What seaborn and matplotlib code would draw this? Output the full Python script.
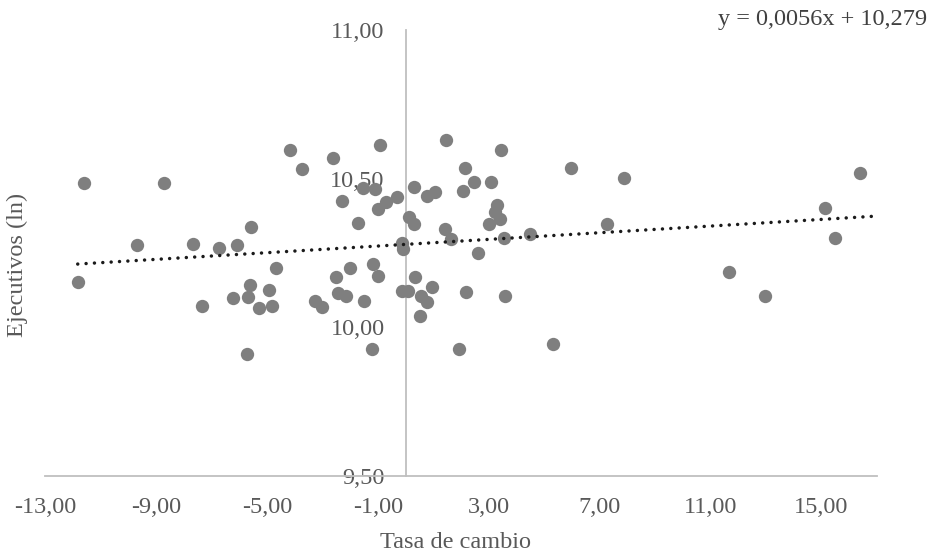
import matplotlib
matplotlib.use("Agg")
import matplotlib.pyplot as plt
from matplotlib.ticker import FuncFormatter, FixedLocator
import seaborn as sns
import pandas as pd
import numpy as np

# ---- data ----
tasa_cambio = [
    -11.59, -8.72, -5.59, -9.68, -7.68, -6.71, -6.09, -11.82, -5.61, -6.22,
    -5.69, -5.29, -7.35, -5.72, -4.15, -0.93, -3.75, -2.63, -1.55, -1.11,
    -2.30, -0.99, -0.71, -0.29, 0.31, 0.77, 1.05, 0.13, 0.30, -1.71,
    -0.11, -0.09, -4.68, -2.01, -1.17, -1.01, -2.49, -4.92, -4.83, -3.27,
    -3.03, -2.45, -2.15, -1.50, -0.14, 0.08, 0.33, 0.57, 0.79, 0.97,
    0.51, -1.21, 1.47, 3.46, 5.98, 2.13, 2.46, 3.07, 2.07, 3.30,
    3.21, 3.39, 3.01, 1.44, 1.65, 3.55, 4.50, 2.61, 2.19, 3.59,
    1.93, 5.30, 7.87, 16.40, 15.13, 7.26, 15.47, 11.68, 12.97,
]
ejecutivos = [
    10.486, 10.486, 10.337, 10.278, 10.281, 10.268, 10.277, 10.151, 10.142, 10.098,
    10.103, 10.065, 10.071, 9.910, 10.597, 10.613, 10.534, 10.568, 10.469, 10.466,
    10.426, 10.398, 10.420, 10.437, 10.471, 10.442, 10.454, 10.370, 10.346, 10.350,
    10.284, 10.263, 10.201, 10.201, 10.214, 10.173, 10.170, 10.124, 10.072, 10.087,
    10.070, 10.115, 10.106, 10.090, 10.121, 10.121, 10.169, 10.104, 10.084, 10.137,
    10.039, 9.927, 10.629, 10.597, 10.536, 10.536, 10.488, 10.488, 10.459, 10.410,
    10.387, 10.364, 10.347, 10.332, 10.297, 10.300, 10.315, 10.250, 10.120, 10.104,
    9.927, 9.943, 10.502, 10.519, 10.402, 10.348, 10.299, 10.185, 10.107,
]
trend_slope = 0.0056
trend_intercept = 10.279
trend_x_end = 17.0
equation_label = "y = 0,0056x + 10,279"
x_ticks = [-13, -9, -5, -1, 3, 7, 11, 15]
y_ticks = [9.5, 10.0, 10.5, 11.0]
x_title = "Tasa de cambio"
y_title = "Ejecutivos (ln)"

df = pd.DataFrame({"Tasa de cambio": tasa_cambio, "Ejecutivos (ln)": ejecutivos})

# ---- style ----
sns.set_style("white")
plt.rcParams["font.family"] = ["Liberation Serif", "DejaVu Serif"]
FS = 17.5
TXT = "#595959"
AXC = "#bfbfbf"

fig = plt.figure(figsize=(9.31, 5.56), dpi=100)
W, H = 931, 556
ax = fig.add_axes([45 / W, (H - 476) / H, 832 / W, 446 / H])

sns.scatterplot(data=df, x="Tasa de cambio", y="Ejecutivos (ln)", ax=ax,
                color="#7f7f7f", s=92, linewidth=0, zorder=3, legend=False)

xs = np.array([min(tasa_cambio), trend_x_end])
ax.plot(xs, trend_slope * xs + trend_intercept, color="#1a1a1a",
        linewidth=2.5, linestyle=(0, (0.01, 2.4)), dash_capstyle="round", zorder=4)

ax.set_xlim(-13, 17)
ax.set_ylim(9.5, 11.0)

fmt = FuncFormatter(lambda v, p: f"{v:.2f}".replace(".", ","))
ax.xaxis.set_major_locator(FixedLocator(x_ticks))
ax.yaxis.set_major_locator(FixedLocator(y_ticks))
ax.xaxis.set_major_formatter(fmt)
ax.yaxis.set_major_formatter(fmt)

for s in ["top", "right"]:
    ax.spines[s].set_visible(False)
ax.spines["left"].set_position(("data", 0))
ax.spines["left"].set_color(AXC)
ax.spines["left"].set_linewidth(1.3)
ax.spines["bottom"].set_color(AXC)
ax.spines["bottom"].set_linewidth(1.3)
ax.spines["left"].set_zorder(1)

ax.tick_params(axis="x", length=0, pad=15, labelsize=FS, labelcolor=TXT)
ax.tick_params(axis="y", length=0, pad=15, labelsize=FS, labelcolor=TXT)
ax.grid(False)

ax.set_xlabel("")
ax.set_ylabel("")
fig.text(456 / W, 1 - 543 / H, x_title, ha="center", va="center", fontsize=FS, color=TXT)
fig.text(17 / W, 1 - 265 / H, y_title, ha="center", va="center", rotation=90,
         fontsize=FS, color=TXT)
fig.text(927 / W, 1 - 20 / H, equation_label, ha="right", va="center",
         fontsize=FS, color="#404040")

fig.savefig("out.png", dpi=100)
